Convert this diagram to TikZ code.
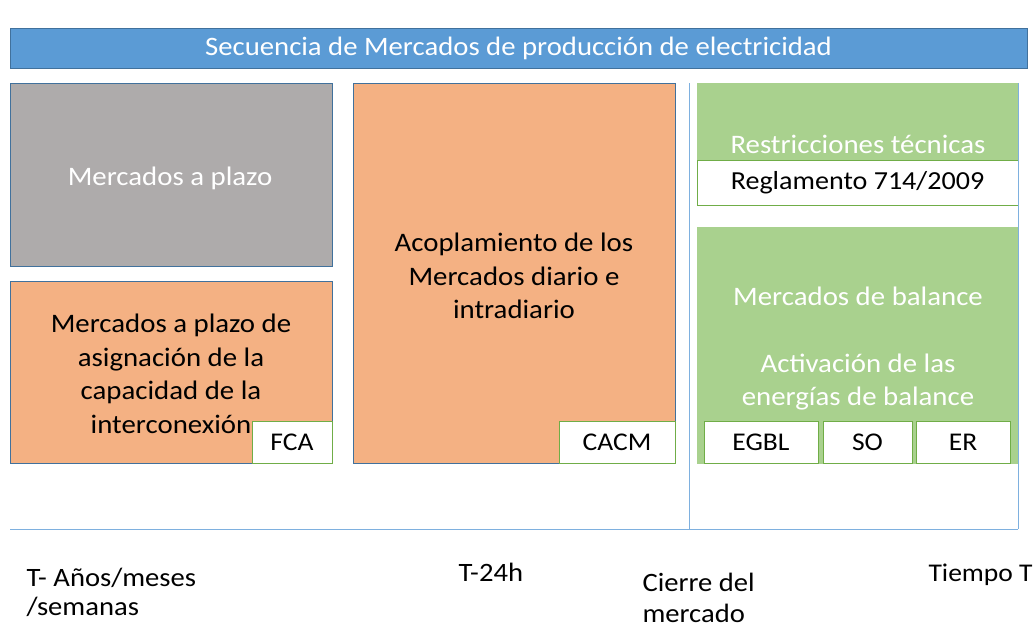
\documentclass[tikz,border=0pt]{standalone}
\usepackage{fontspec}
\setmainfont{Carlito}[FakeStretch=1.08]
\usepackage{tikz}
\usetikzlibrary{positioning}
\definecolor{titleblue}{HTML}{5B9BD5}
\definecolor{titleedge}{HTML}{41719C}
\definecolor{plazogray}{HTML}{AEABAB}
\definecolor{mktorange}{HTML}{F4B183}
\definecolor{mktgreen}{HTML}{A9D18E}
\definecolor{subedge}{HTML}{70AD47}
\definecolor{axisblue}{HTML}{7EB0DF}
\tikzset{
	mktbox/.style={draw=titleedge, line width=0.8pt, anchor=north west, inner sep=0pt, outer sep=0pt},
	tagbox/.style={draw=subedge, fill=white, line width=0.8pt, anchor=north west, inner sep=0pt, outer sep=0pt, font=\fontsize{25.5}{30}\selectfont},
	boxtext/.style={align=center, font=\fontsize{26.7}{33.5}\selectfont},
	timetext/.style={align=left, anchor=base west, font=\fontsize{26.5}{29}\selectfont}
}

\begin{document}
\begin{tikzpicture}[x=1pt, y=-1pt]
		%%%%% START %%%%%
		\useasboundingbox (0, 0) rectangle (1036, 625);
		
		\node[mktbox, fill=titleblue, minimum width=1017pt, minimum height=40pt, text=white, font=\fontsize{26.6}{31}\selectfont] (title) at (10, 28) {Secuencia de Mercados de producción de electricidad};
		
		\node[mktbox, fill=plazogray, minimum width=322pt, minimum height=183pt] (plazo) at (10, 83) {};
		\node[boxtext, text=white] (plazotxt) at (170, 178) {Mercados a plazo};
		
		\node[mktbox, fill=mktorange, minimum width=322pt, minimum height=182pt] (asign) at (10, 281) {};
		\node[boxtext] (asigntxt) at (171, 374) {Mercados a plazo de\\asignación de la\\capacidad de la\\interconexión};
		\node[tagbox, minimum width=80pt, minimum height=42pt] (fca) at (252, 421) {FCA};
		
		\node[mktbox, fill=mktorange, minimum width=322pt, minimum height=380pt] (acopl) at (353, 83) {};
		\node[boxtext] (acopltxt) at (514, 276) {Acoplamiento de los\\Mercados diario e\\intradiario};
		\node[tagbox, minimum width=116pt, minimum height=42pt] (cacm) at (559, 421) {CACM};
		
		\node[mktbox, draw=mktgreen, fill=mktgreen, minimum width=321pt, minimum height=122pt] (restr) at (697, 83) {};
		\node[boxtext, text=white] (restrtxt) at (858, 144) {Restricciones técnicas};
		\node[tagbox, minimum width=321pt, minimum height=45pt, font=\fontsize{26}{30}\selectfont] (regl) at (697, 160) {Reglamento 714/2009};
		
		\node[mktbox, draw=mktgreen, fill=mktgreen, minimum width=321pt, minimum height=236pt] (balance) at (697, 227) {};
		\node[boxtext, text=white] (balancetxt) at (858, 296) {Mercados de balance};
		\node[boxtext, text=white] (activtxt) at (858, 382) {Activación de las\\energías de balance};
		\node[tagbox, minimum width=114pt, minimum height=42pt] (egbl) at (704, 421) {EGBL};
		\node[tagbox, minimum width=89pt, minimum height=42pt] (so) at (823, 421) {SO};
		\node[tagbox, minimum width=94pt, minimum height=42pt] (er) at (916, 421) {ER};
		
		\coordinate (axisL) at (10, 529);
		\coordinate (axisR) at (1018, 529);
		\coordinate (gateT) at (689, 83);
		\coordinate (gateB) at (689, 529);
		\coordinate (endT) at (1018, 83);
		\draw[line width=0.8pt, color=axisblue] (axisL) -- (axisR);
		\draw[line width=0.8pt, color=axisblue] (gateT) -- (gateB);
		\draw[line width=0.8pt, color=axisblue] (endT) -- (axisR);
		
		\node[timetext] (tanos) at (23, 615) {T- Años/meses\\/semanas};
		\node[timetext] (t24) at (455, 581) {T-24h};
		\node[timetext, font=\fontsize{26.5}{31}\selectfont] (cierre) at (639, 622) {Cierre del\\mercado};
		\node[timetext, font=\fontsize{25.5}{29}\selectfont] (tiempo) at (925, 581) {Tiempo T};
		
		%%%%% END %%%%%
	\end{tikzpicture}
\end{document}
